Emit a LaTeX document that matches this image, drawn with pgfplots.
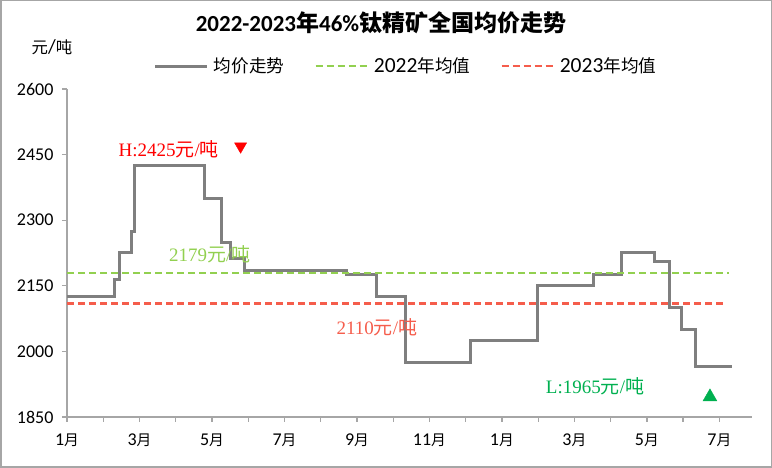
\documentclass[border=0pt]{standalone}
\usepackage{pgfplots}
\pgfplotsset{compat=1.18}
\usepackage{fontspec}
\setmainfont{Carlito}
\newfontfamily\cjk[Scale=0.82]{Noto Sans CJK SC}
\newfontfamily\cjkT{Noto Sans CJK SC}
\newfontfamily\ser{Liberation Serif}
\definecolor{linegray}{HTML}{7F7F7F}
\definecolor{avggreen}{HTML}{92D050}
\definecolor{avgred}{HTML}{F55D4C}
\definecolor{axcol}{HTML}{A6A6A6}
\definecolor{hired}{HTML}{FF0000}
\definecolor{logreen}{HTML}{00B050}
\begin{document}
\begin{tikzpicture}[x=1pt,y=1pt]
\useasboundingbox (0,0) rectangle (772,468);
\draw[axcol, line width=1.5pt] (0.75,0.75) rectangle (771.25,467.25);
\node[font=\fontsize{23}{23}\selectfont\bfseries] at (381,445) {2022-2023{\cjkT 年}46\%{\cjkT 钛精矿全国均价走势}};
\node[font=\fontsize{20}{20}\selectfont] at (52,421) {{\cjk 元}/{\cjk 吨}};
\begin{axis}[
  at={(67pt,51pt)}, anchor=south west,
  scale only axis, width=685pt, height=328pt,
  xmin=0, xmax=18.9, ymin=1850, ymax=2600,
  axis x line*=bottom, axis y line*=left,
  axis line style={axcol, line width=1.3pt},
  ytick={1850,2000,2150,2300,2450,2600},
  xtick={0,...,18},
  xticklabels={1{\cjk 月},,3{\cjk 月},,5{\cjk 月},,7{\cjk 月},,9{\cjk 月},,11{\cjk 月},,1{\cjk 月},,3{\cjk 月},,5{\cjk 月},,7{\cjk 月}},
  tick align=outside, major tick length=5pt,
  tick style={axcol, line width=1.3pt},
  /pgf/number format/assume math mode=true,
  /pgf/number format/1000 sep={},
  yticklabel style={font=\fontsize{18}{18}\selectfont, xshift=-5pt},
  xticklabel style={font=\fontsize{18}{18}\selectfont, yshift=-8pt},
  clip=false,
  legend style={at={(0.495,1.07)}, anchor=center, draw=none, fill=none,
    font=\fontsize{21.5}{21.5}\selectfont,
    /tikz/every even column/.append style={column sep=28pt},
    /tikz/every odd column/.append style={column sep=3pt}},
  legend columns=3,
  legend cell align=left,
  legend image code/.code={\draw[#1] (0pt,0pt) -- (52pt,0pt);},
]
\addplot[const plot, linegray, line width=3pt] coordinates {
(0,2125) (1.32,2165) (1.46,2225) (1.77,2275) (1.85,2425) (3.78,2350)
(4.27,2250) (4.50,2212) (4.91,2185) (7.70,2175) (8.54,2125) (9.34,1975)
(11.12,2025) (12.97,2150) (14.54,2175) (15.30,2225) (16.22,2205)
(16.62,2100) (16.96,2050) (17.34,1965) (18.34,1965)};
\addlegendentry{{\cjk 均价走势}}
\addplot[avggreen, line width=2.5pt, dash pattern=on 7pt off 4pt] coordinates {(0,2179) (18.26,2179)};
\addlegendentry{2022{\cjk 年均值}}
\addplot[avgred, line width=2.5pt, dash pattern=on 7pt off 4pt] coordinates {(0,2110) (18.09,2110)};
\addlegendentry{2023{\cjk 年均值}}
\addplot[forget plot, only marks, mark=triangle*, mark size=7pt, hired, mark options={rotate=180, draw=hired, fill=hired}] coordinates {(4.79,2469)};
\addplot[forget plot, only marks, mark=triangle*, mark size=8pt, logreen, mark options={draw=logreen, fill=logreen}] coordinates {(17.74,1896)};
\node[hired, font=\fontsize{19}{19}\selectfont] at (axis cs:2.81,2463) {{\ser H:2425}{\cjkT 元}{\ser /}{\cjkT 吨}};
\node[avggreen, font=\fontsize{19}{19}\selectfont] at (axis cs:3.94,2223) {{\ser 2179}{\cjkT 元}{\ser /}{\cjkT 吨}};
\node[avgred, font=\fontsize{19}{19}\selectfont] at (axis cs:8.55,2056) {{\ser 2110}{\cjkT 元}{\ser /}{\cjkT 吨}};
\node[logreen, font=\fontsize{19}{19}\selectfont] at (axis cs:14.57,1921) {{\ser L:1965}{\cjkT 元}{\ser /}{\cjkT 吨}};
\end{axis}
\end{tikzpicture}
\end{document}
